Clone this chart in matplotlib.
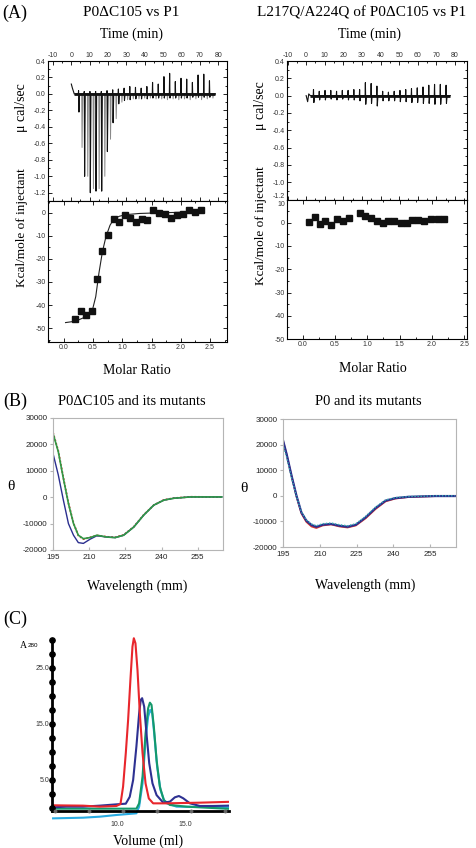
import matplotlib
matplotlib.use("Agg")
import matplotlib.pyplot as plt
import matplotlib.transforms as mtransforms
from matplotlib.ticker import MultipleLocator, FormatStrFormatter

plt.rcParams['axes.unicode_minus'] = False
SERIF = 'Liberation Serif'
SANS = 'Liberation Sans'

# ---------------- (A) ITC data ----------------
# injection times (min), same schedule for both titrations
inj_t = [3.8, 6.9, 10.0, 13.1, 16.2, 19.3, 22.4, 25.5, 28.6, 31.7, 34.8, 37.9,
         41.0, 44.1, 47.2, 50.3, 53.4, 56.5, 59.6, 62.7, 65.8, 68.9, 72.0, 75.1]

# P0dC105 vs P1 raw heat (ucal/s)
a1_up = [0.04, 0.03, 0.03, 0.03, 0.03, 0.04, 0.05, 0.06, 0.07, 0.09, 0.08, 0.07,
         0.09, 0.14, 0.12, 0.21, 0.25, 0.15, 0.19, 0.18, 0.14, 0.23, 0.24, 0.16]
a1_dn = [-0.22, -1.0, -1.2, -1.18, -1.18, -0.7, -0.35, -0.12, -0.08, -0.07, -0.06, -0.06,
         -0.06, -0.05, -0.05, -0.05, -0.05, -0.05, -0.05, -0.05, -0.04, -0.04, -0.04, -0.04]
a1_gray_t = [5.5, 8.6, 11.7, 14.8, 17.9, 21.0, 24.1, 27.2, 30.3, 33.4, 36.5, 39.6,
             42.7, 45.8, 48.9, 52.0, 55.1, 58.2, 61.3, 64.4, 67.5, 70.6, 73.7, 76.8]
a1_gray_dn = [-0.65, -1.0, -1.15, -1.15, -1.0, -0.55, -0.3, -0.1, -0.07, -0.06, -0.06, -0.05,
              -0.05, -0.06, -0.06, -0.07, -0.06, -0.07, -0.06, -0.07, -0.06, -0.07, -0.06, -0.05]
a1_start_t = [0.0, 0.6, 1.6]
a1_start_v = [0.12, 0.07, 0.0]
a1_end_t = 78.5

# L217Q/A224Q vs P1 raw heat
a2_up = [0.07, 0.05, 0.06, 0.06, 0.05, 0.06, 0.06, 0.07, 0.07, 0.15, 0.14, 0.11,
         0.05, 0.04, 0.05, 0.06, 0.07, 0.08, 0.09, 0.10, 0.12, 0.13, 0.13, 0.12]
a2_dn = [-0.08, -0.05, -0.05, -0.04, -0.05, -0.04, -0.05, -0.05, -0.06, -0.10, -0.09, -0.12,
         -0.06, -0.06, -0.06, -0.07, -0.07, -0.08, -0.08, -0.09, -0.09, -0.10, -0.10, -0.09]
a2_start_t = [0.0, 0.8, 1.4, 2.2]
a2_start_v = [0.0, -0.07, 0.02, 0.0]
a2_end_t = 77.5

# integrated heats (kcal/mol of injectant)
a1_mr = [0.20, 0.29, 0.385, 0.48, 0.575, 0.66, 0.75, 0.85, 0.95, 1.05, 1.14, 1.24,
         1.34, 1.43, 1.52, 1.63, 1.73, 1.83, 1.93, 2.03, 2.14, 2.24, 2.34]
a1_heat = [-46.1, -42.8, -44.5, -42.5, -28.9, -16.7, -9.6, -2.7, -4.3, -1.0, -2.2, -4.3,
           -2.7, -3.2, 0.9, -0.1, -0.6, -2.3, -0.9, -0.6, 1.3, 0.1, 0.9]
a1_fit_mr = [0.03, 0.20, 0.385, 0.49, 0.546, 0.60, 0.66, 0.72, 0.79, 0.86, 0.95, 1.06,
             1.29, 1.64, 1.98, 2.34]
a1_fit = [-47.6, -47.0, -45.0, -42.1, -36.4, -26.3, -17.0, -10.5, -5.5, -2.6, -1.6, -0.9,
          -0.4, -0.1, 0.1, 0.3]
a2_mr = [0.104, 0.197, 0.275, 0.353, 0.441, 0.534, 0.622, 0.711, 0.882, 0.970, 1.053, 1.146,
         1.235, 1.323, 1.411, 1.515, 1.608, 1.696, 1.790, 1.883, 1.981, 2.085, 2.178]
a2_heat = [0.3, 2.4, -0.4, 0.7, -0.9, 1.7, 0.7, 2.0, 4.0, 3.1, 2.1, 0.7,
           0.0, 0.7, 0.7, 0.0, 0.0, 1.3, 1.0, 0.7, 1.6, 1.6, 1.6]

raw_yticks = [-1.2, -1.0, -0.8, -0.6, -0.4, -0.2, 0.0, 0.2, 0.4]
iso1_yticks = [-50, -40, -30, -20, -10, 0]
iso2_yticks = [-50, -40, -30, -20, -10, 0, 10]

# ---------------- (B) CD spectra ----------------
b1_wl = [195, 197.2, 199.3, 201.4, 203.5, 205.5, 207.6, 210.4, 213.2, 217.4, 220.8, 224.3,
         228.5, 232.6, 236.8, 241, 245.1, 252, 259, 265]
b1_green = [24200, 17200, 7100, -2400, -10000, -14400, -15700, -15300, -14400, -15100, -15300, -14400,
            -11300, -6800, -3000, -1100, -400, 100, 100, 100]
b1_red = [24500, 17500, 7400, -2200, -9800, -14500, -15900, -15200, -14500, -15000, -15200, -14300,
          -11200, -6700, -3000, -1000, -350, 150, 100, 50]
b1_blue = [16600, 8400, -1100, -10000, -14400, -17200, -17500, -15900, -14600, -15100, -15300, -14400,
           -11300, -6800, -3000, -1100, -400, 100, 100, 100]

b2_wl = [195, 196.5, 198.5, 200.5, 202.5, 204.5, 206.6, 208.6, 211.2, 214.6, 218, 221.3,
         224.7, 228.7, 232.7, 236.8, 240.8, 246.1, 256.9, 265]
b2_navy = [21700, 16200, 7800, 0, -6500, -9700, -11400, -12100, -11300, -11000, -11700, -12100,
           -11300, -8400, -4800, -1900, -900, -400, -100, -100]
b2_red = [21500, 16000, 7600, -300, -6900, -10200, -12000, -12600, -11600, -11200, -12000, -12400,
          -11600, -8800, -5200, -2200, -1100, -500, -150, -100]
b2_teal = [20000, 15000, 7000, -300, -6300, -9400, -11000, -11700, -10900, -10600, -11300, -11700,
           -10900, -8000, -4400, -1600, -700, -300, 0, 0]

# ---------------- (C) gel filtration ----------------
c_red_v = [4.88, 5.86, 7.08, 8.31, 9.53, 9.83, 10.02, 10.22, 10.39, 10.56, 10.71, 10.81, 10.93,
           11.08, 11.25, 11.45, 11.67, 11.91, 12.23, 13.2, 15.66, 17.79]
c_red_a = [0.48, 0.45, 0.42, 0.24, 0.36, 0.71, 3.8, 9.8, 15.7, 22.9, 28.8, 30.3, 29.4,
           24.6, 16.9, 9.8, 4.4, 1.7, 0.83, 0.83, 0.95, 1.1]
c_blue_v = [4.83, 5.86, 7.08, 8.31, 9.53, 10.22, 10.51, 10.76, 11.0, 11.2, 11.32, 11.42, 11.57,
            11.74, 11.94, 12.18, 12.48, 12.97, 13.46, 13.82, 14.12, 14.44, 14.93, 15.66, 16.64, 17.79]
c_blue_a = [0.12, 0.24, 0.24, 0.42, 0.65, 0.77, 2.0, 5.0, 11.0, 16.9, 19.3, 19.6, 18.1,
            13.3, 8.0, 4.4, 2.3, 0.95, 1.13, 1.9, 2.14, 1.73, 0.83, 0.36, 0.36, 0.42]
c_green_v = [4.88, 7.08, 9.53, 11.0, 11.2, 11.45, 11.67, 11.86, 11.99, 12.11, 12.28, 12.48,
             12.72, 13.01, 13.46, 14.68, 17.79]
c_green_a = [-0.12, -0.12, -0.12, -0.12, 0.83, 5.6, 13.3, 17.8, 18.8, 18.4, 14.5, 8.6,
             3.8, 1.43, 0.54, 0.24, -0.15]
c_cyan_v = [4.88, 7.08, 8.31, 9.53, 11.0, 11.2, 11.45, 11.67, 11.86, 12.01, 12.16, 12.33,
            12.52, 12.77, 13.09, 13.95, 17.79]
c_cyan_a = [-1.85, -1.73, -1.55, -1.25, -0.95, 0.24, 4.4, 12.1, 16.3, 17.5, 16.9, 12.7,
            7.4, 3.2, 0.95, 0.24, 0.12]
c_ydots = [0, 2.5, 5, 7.5, 10, 12.5, 15, 17.5, 20, 22.5, 25, 27.5, 30]
c_xdots = [5, 7.5, 10, 12.5, 15, 17.5]

W, H = 477, 848
fig = plt.figure(figsize=(W / 100, H / 100), dpi=100)


def box(l, t, r, b):
    return [l / W, 1 - b / H, (r - l) / W, (b - t) / H]


def ftext(x, y, s, **kw):
    kw.setdefault('ha', 'center')
    kw.setdefault('va', 'center')
    fig.text(x / W, 1 - y / H, s, **kw)


def nudge(lbl, dx, dy):
    # shift a tick label by a few pixels
    off = mtransforms.ScaledTranslation(dx / 100, dy / 100, fig.dpi_scale_trans)
    lbl.set_transform(lbl.get_transform() + off)


def thermogram(t_inj, up, dn, start_t, start_v, end_t):
    tt = list(start_t)
    vv = list(start_v)
    for t, u, d in zip(t_inj, up, dn):
        tt += [t, t + 0.15, t + 0.35, t + 0.7]
        vv += [0, u, d, 0]
    tt.append(end_t)
    vv.append(0)
    return tt, vv


def itc_style(ax):
    ax.tick_params(which='both', direction='in', top=True, right=True,
                   labelsize=5, labelcolor='#333', width=0.6, pad=1.5)
    ax.tick_params(which='major', length=3)
    ax.tick_params(which='minor', length=1.6)
    for s in ax.spines.values():
        s.set_linewidth(0.8)
    for lbl in ax.get_xticklabels() + ax.get_yticklabels():
        lbl.set_family(SANS)


def raw_panel(rect, xlim, ylim, up, dn, st, sv, et, gray=None):
    ax = fig.add_axes(rect)
    if gray is not None:
        gt, gv = thermogram(gray[0], [0] * len(gray[0]), gray[1], [], [], et)
        ax.plot(gt, gv, color='#8a8a8a', lw=0.7)
    tt, vv = thermogram(inj_t, up, dn, st, sv, et)
    ax.plot(tt, vv, color='#111', lw=0.8)
    ax.hlines(0, st[-1], et, color='#111', lw=2.0)
    ax.xaxis.set_major_locator(MultipleLocator(10))
    ax.xaxis.set_minor_locator(MultipleLocator(5))
    ax.set_yticks(raw_yticks)
    ax.yaxis.set_minor_locator(MultipleLocator(0.1))
    ax.yaxis.set_major_formatter(FormatStrFormatter('%.1f'))
    ax.set_xlim(*xlim)
    ax.set_ylim(*ylim)
    ax.tick_params(labeltop=True, labelbottom=False)
    itc_style(ax)
    return ax


def iso_panel(rect, xlim, ylim, yticks, mr, heat, fit=None):
    ax = fig.add_axes(rect)
    if fit is not None:
        ax.plot(fit[0], fit[1], color='#222', lw=0.8)
    ax.plot(mr, heat, 's', color='#111', ms=4.2)
    ax.xaxis.set_major_locator(MultipleLocator(0.5))
    ax.xaxis.set_minor_locator(MultipleLocator(0.25))
    ax.xaxis.set_major_formatter(FormatStrFormatter('%.1f'))
    ax.set_yticks(yticks)
    ax.yaxis.set_minor_locator(MultipleLocator(5))
    ax.set_xlim(*xlim)
    ax.set_ylim(*ylim)
    itc_style(ax)
    return ax


# ---- panel A ----
raw_panel(box(48, 61, 227, 201), (-12.7, 84.8), (-1.3, 0.4),
          a1_up, a1_dn, a1_start_t, a1_start_v, a1_end_t, gray=(a1_gray_t, a1_gray_dn))
iso_panel(box(48, 201, 227, 342), (-0.27, 2.79), (-56, 5), iso1_yticks, a1_mr, a1_heat,
          fit=(a1_fit_mr, a1_fit))
ax_r2 = raw_panel(box(287, 61, 467, 199.5), (-10.3, 86.5), (-1.2, 0.4),
                  a2_up, a2_dn, a2_start_t, a2_start_v, a2_end_t)
ax_i2 = iso_panel(box(287, 199.5, 467, 339), (-0.24, 2.54), (-50, 10), iso2_yticks,
                  a2_mr, a2_heat)
# the two labels meet at the shared frame line; pull them apart a little
nudge(ax_r2.get_yticklabels()[0], 0, 4)
nudge(ax_i2.get_yticklabels()[-1], 0, -4)

ftext(15, 13, '(A)', family=SERIF, fontsize=13)
ftext(131, 13, 'P0ΔC105 vs P1', family=SERIF, fontsize=11)
ftext(362, 13, 'L217Q/A224Q of P0ΔC105 vs P1', family=SERIF, fontsize=11)
ftext(132, 34, 'Time (min)', family=SERIF, fontsize=10)
ftext(370, 34, 'Time (min)', family=SERIF, fontsize=10)
ftext(137, 370, 'Molar Ratio', family=SERIF, fontsize=10)
ftext(373, 369, 'Molar Ratio', family=SERIF, fontsize=10)
ftext(22, 108, 'μ cal/sec', family=SERIF, fontsize=10, rotation=90)
ftext(261, 106, 'μ cal/sec', family=SERIF, fontsize=10, rotation=90)
ftext(22, 228, 'Kcal/mole of injectant', family=SERIF, fontsize=9.5, rotation=90)
ftext(261, 226, 'Kcal/mole of injectant', family=SERIF, fontsize=9.5, rotation=90)


# ---- panel B ----
def cd_style(ax):
    ax.set_xlim(195, 265.5)
    ax.set_ylim(-20000, 30000)
    ax.set_xticks([195, 210, 225, 240, 255])
    ax.set_yticks([-20000, -10000, 0, 10000, 20000, 30000])
    for s in ax.spines.values():
        s.set_color('#b5b5b5')
        s.set_linewidth(0.8)
    ax.tick_params(axis='x', direction='in', length=2.5, color='#b5b5b5', labelsize=5.8, pad=3)
    ax.tick_params(axis='y', direction='out', length=2.5, color='#b5b5b5', labelsize=5.8, pad=1.5)
    for lbl in ax.get_xticklabels() + ax.get_yticklabels():
        lbl.set_family(SANS)
        lbl.set_color('#222')


axb1 = fig.add_axes(box(53, 418, 223, 550))
axb1.plot(b1_wl, b1_red, color='#d9342b', lw=1.3, ls=(0, (1, 1)))
axb1.plot(b1_wl, b1_blue, color='#2b2f8f', lw=1.0)
axb1.plot(b1_wl, b1_green, color='#2f9a47', lw=1.2)
cd_style(axb1)

axb2 = fig.add_axes(box(283, 419, 456, 547))
axb2.plot(b2_wl, b2_red, color='#d9342b', lw=1.2)
axb2.plot(b2_wl, b2_navy, color='#2b2f8f', lw=1.6)
axb2.plot(b2_wl, b2_teal, color='#35b0b0', lw=1.0, ls=(0, (1, 1.2)))
cd_style(axb2)

ftext(15, 401, '(B)', family=SERIF, fontsize=13)
ftext(132, 401, 'P0ΔC105 and its mutants', family=SERIF, fontsize=10.5)
ftext(368, 401, 'P0 and its mutants', family=SERIF, fontsize=10.5)
ftext(11, 487, 'θ', family=SERIF, fontsize=11)
ftext(244, 488, 'θ', family=SERIF, fontsize=11)
ftext(137, 586, 'Wavelength (mm)', family=SERIF, fontsize=10)
ftext(365, 585, 'Wavelength (mm)', family=SERIF, fontsize=10)

# ---- panel C ----
axc = fig.add_axes(box(52, 636, 229, 822))
axc.plot(c_cyan_v, c_cyan_a, color='#29abe2', lw=1.5)
axc.plot(c_green_v, c_green_a, color='#14996b', lw=1.5)
axc.plot(c_blue_v, c_blue_a, color='#2e3192', lw=1.5)
axc.plot(c_red_v, c_red_a, color='#e8262c', lw=1.5)
axc.spines['top'].set_visible(False)
axc.spines['right'].set_visible(False)
axc.spines['left'].set_bounds(-0.6, 30)
axc.spines['left'].set_linewidth(2.0)
axc.spines['bottom'].set_position(('data', -0.6))
axc.spines['bottom'].set_linewidth(2.0)
axc.plot([4.8] * len(c_ydots), c_ydots, 'o', color='k', ms=3.8, clip_on=False, zorder=5)
axc.plot(c_xdots, [-0.6] * len(c_xdots), 'o', color='#666', ms=1.8, clip_on=False, zorder=5)
axc.set_yticks([5, 15, 25])
axc.set_yticklabels(['5.0', '15.0', '25.0'])
axc.set_xticks([10, 15])
axc.set_xticklabels(['10.0', '15.0'])
axc.set_xlim(4.8, 17.8)
axc.set_ylim(-2.5, 30.7)
axc.tick_params(axis='both', length=0, labelsize=5)
axc.tick_params(axis='y', pad=2)
axc.tick_params(axis='x', pad=7)
for lbl in axc.get_xticklabels():
    nudge(lbl, -6, 0)
for lbl in axc.get_xticklabels() + axc.get_yticklabels():
    lbl.set_family(SANS)
    lbl.set_color('#333')

ftext(15, 619, '(C)', family=SERIF, fontsize=13)
ftext(20, 645, 'A', family=SERIF, fontsize=7, ha='left')
ftext(28, 645.5, '280', family=SANS, fontsize=4.5, ha='left')
ftext(148, 841, 'Volume (ml)', family=SERIF, fontsize=10)

fig.savefig('out.png', dpi=100)
